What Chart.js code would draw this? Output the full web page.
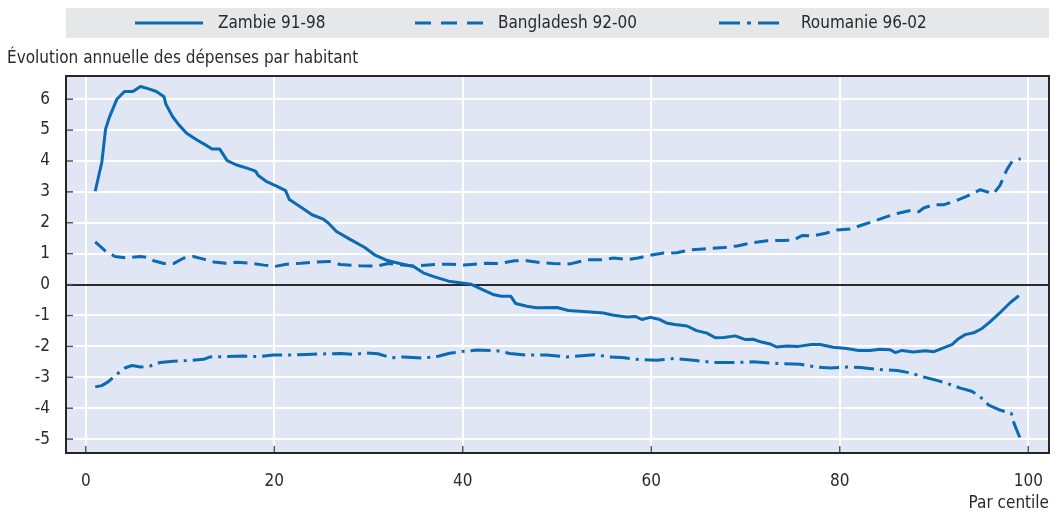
<!DOCTYPE html>
<html><head><meta charset="utf-8">
<script src="https://cdn.jsdelivr.net/npm/chart.js@4/dist/chart.umd.min.js"></script>
<style>html,body{margin:0;padding:0;background:#fff;}#wrap{width:1056px;height:515px;position:relative;}</style>
</head><body><div id="wrap"><canvas id="c" width="1056" height="515"></canvas></div>
<script>
// ---- data ----
const seriesLabels = ['Zambie 91-98', 'Bangladesh 92-00', 'Roumanie 96-02'];
const yAxisTitle = 'Évolution annuelle des dépenses par habitant';
const xAxisTitle = 'Par centile';
const xTickValues = [0, 20, 40, 60, 80, 100];
const yTickValues = [-5, -4, -3, -2, -1, 0, 1, 2, 3, 4, 5, 6];

const zambieX = [1, 1.7, 2.1, 2.5, 3.3, 4.1, 5.0, 5.8, 6.6, 7.5, 8.3, 8.5, 9.2, 9.9, 10.7, 11.8, 12.7, 13.4, 14.2, 15.0, 16.0, 17.1, 18.0, 18.3, 19.2, 20.3, 21.2, 21.6, 22.8, 24.0, 25.2, 25.7, 26.6, 28.0, 29.6, 30.7, 31.9, 33.3, 34.75, 35.8, 37.0, 38.5, 39.9, 40.9, 42.2, 43.2, 44.1, 45.1, 45.6, 46.8, 47.8, 50.0, 51.2, 53.2, 54.9, 56.0, 57.4, 58.3, 59.0, 59.9, 60.8, 61.6, 62.5, 63.8, 64.8, 65.9, 66.8, 67.7, 68.9, 70.0, 70.8, 71.7, 72.6, 73.3, 74.4, 75.6, 77.0, 77.9, 79.3, 80.75, 82.0, 83.2, 84.3, 85.35, 85.9, 86.6, 87.8, 89.1, 90.0, 91.0, 91.9, 92.6, 93.3, 94.2, 95.1, 96.0, 97.0, 98.1, 99.0];
const zambieY = [3.02, 3.96, 5.03, 5.41, 6.0, 6.25, 6.25, 6.41, 6.34, 6.25, 6.08, 5.84, 5.44, 5.16, 4.9, 4.68, 4.52, 4.39, 4.39, 4.01, 3.87, 3.77, 3.67, 3.53, 3.33, 3.18, 3.04, 2.75, 2.51, 2.26, 2.12, 2.0, 1.72, 1.47, 1.2, 0.95, 0.79, 0.68, 0.59, 0.38, 0.25, 0.11, 0.05, 0.01, -0.18, -0.32, -0.38, -0.38, -0.61, -0.70, -0.75, -0.74, -0.84, -0.88, -0.92, -0.99, -1.05, -1.03, -1.13, -1.06, -1.12, -1.24, -1.29, -1.34, -1.49, -1.57, -1.72, -1.71, -1.66, -1.78, -1.77, -1.86, -1.92, -2.02, -1.99, -2.0, -1.94, -1.94, -2.03, -2.07, -2.13, -2.13, -2.09, -2.11, -2.2, -2.13, -2.18, -2.14, -2.17, -2.05, -1.94, -1.75, -1.62, -1.56, -1.42, -1.19, -0.91, -0.58, -0.36];

const bangladeshX = [1, 2.1, 3.1, 4.2, 5.8, 6.7, 7.2, 8.3, 9.3, 10.4, 11.4, 12.3, 13.6, 14.8, 16.0, 17.5, 18.9, 20.1, 21.3, 22.8, 24.2, 25.8, 27.0, 29.1, 30.9, 32.1, 34.75, 37.2, 38.6, 40.1, 40.9, 42.5, 43.9, 45.5, 46.8, 48.2, 49.6, 51.4, 53.2, 54.7, 56.0, 57.4, 58.6, 59.9, 61.3, 62.7, 64.1, 65.5, 67.7, 69.1, 70.7, 72.3, 73.9, 75.1, 76.0, 77.2, 78.5, 79.7, 81.1, 82.3, 83.8, 85.0, 86.2, 87.5, 88.4, 88.9, 90.0, 91.0, 92.4, 93.5, 94.9, 96.3, 97.0, 97.7, 98.3, 99.2];
const bangladeshY = [1.38, 1.08, 0.91, 0.87, 0.91, 0.87, 0.77, 0.68, 0.68, 0.86, 0.91, 0.84, 0.73, 0.69, 0.72, 0.69, 0.63, 0.59, 0.66, 0.69, 0.73, 0.75, 0.65, 0.61, 0.6, 0.68, 0.6, 0.65, 0.66, 0.63, 0.65, 0.69, 0.68, 0.77, 0.77, 0.71, 0.68, 0.67, 0.8, 0.8, 0.86, 0.81, 0.86, 0.95, 1.02, 1.03, 1.12, 1.15, 1.2, 1.25, 1.35, 1.42, 1.43, 1.44, 1.59, 1.58, 1.66, 1.77, 1.8, 1.92, 2.07, 2.2, 2.31, 2.4, 2.36, 2.48, 2.59, 2.58, 2.72, 2.86, 3.07, 2.94, 3.21, 3.7, 4.0, 4.07];

const roumanieX = [1, 1.7, 2.4, 3.3, 4.2, 4.9, 5.8, 6.7, 7.9, 9.3, 10.7, 12.5, 13.2, 14.6, 16.7, 18.3, 19.9, 21.7, 23.5, 25.6, 27.0, 28.4, 29.8, 31.0, 32.4, 33.7, 35.8, 37.4, 38.6, 40.1, 41.5, 43.6, 45.0, 46.8, 48.9, 51.0, 54.0, 55.6, 56.9, 58.5, 60.6, 62.5, 64.5, 66.6, 68.7, 70.8, 73.3, 75.8, 77.6, 79.0, 80.75, 82.2, 83.9, 86.1, 87.5, 88.9, 90.3, 91.4, 92.8, 94.0, 94.9, 95.8, 97.0, 98.2, 98.5, 99.1];
const roumanieY = [-3.31, -3.27, -3.14, -2.9, -2.69, -2.62, -2.67, -2.65, -2.52, -2.48, -2.46, -2.42, -2.34, -2.33, -2.31, -2.33, -2.28, -2.28, -2.26, -2.24, -2.23, -2.26, -2.21, -2.24, -2.37, -2.34, -2.38, -2.32, -2.22, -2.16, -2.12, -2.14, -2.23, -2.28, -2.28, -2.34, -2.27, -2.34, -2.36, -2.42, -2.45, -2.39, -2.45, -2.52, -2.52, -2.5, -2.55, -2.58, -2.67, -2.7, -2.67, -2.68, -2.74, -2.78, -2.86, -2.99, -3.1, -3.2, -3.35, -3.45, -3.63, -3.9, -4.06, -4.17, -4.5, -4.95];

// ---- styling ----
const BLUE = '#0a6ab3';
const FONT = '"Liberation Sans Narrow", "DejaVu Sans Condensed", "Liberation Sans", sans-serif';
const TEXT = '#2a2a2a';
const dashes = [[], [14, 7], [20, 6, 3, 6]];
const legendDashes = [[], [16, 10], [21, 7, 4, 7]];

const toPts = (xs, ys) => xs.map((x, i) => ({ x: x, y: ys[i] }));

const decor = {
  id: 'decor',
  beforeDraw(chart) {
    const { ctx, chartArea: a } = chart;
    ctx.save();
    ctx.fillStyle = '#ffffff';
    ctx.fillRect(0, 0, chart.width, chart.height);
    ctx.fillStyle = '#e0e6f3';
    ctx.fillRect(a.left, a.top, a.right - a.left, a.bottom - a.top);
    // legend box
    ctx.fillStyle = '#e6e7e9';
    ctx.fillRect(a.left, 8, a.right - a.left, 30);
    const items = [[135, 203, 218], [415, 483, 498], [719, 781, 801]];
    ctx.font = '17px ' + FONT;
    ctx.textBaseline = 'middle';
    ctx.textAlign = 'left';
    items.forEach((it, i) => {
      ctx.strokeStyle = BLUE;
      ctx.lineWidth = 3;
      ctx.setLineDash(legendDashes[i]);
      ctx.beginPath();
      ctx.moveTo(it[0], 23);
      ctx.lineTo(it[1], 23);
      ctx.stroke();
      ctx.setLineDash([]);
      ctx.fillStyle = TEXT;
      ctx.fillText(seriesLabels[i], it[2], 23.5);
    });
    // y-axis title above plot
    ctx.textBaseline = 'alphabetic';
    ctx.fillText(yAxisTitle, 7, 63);
    ctx.restore();
  },
  afterDraw(chart) {
    const { ctx, chartArea: a, scales } = chart;
    ctx.save();
    // inward tick marks
    ctx.strokeStyle = '#555';
    ctx.lineWidth = 1.5;
    yTickValues.forEach(v => {
      const y = scales.y.getPixelForValue(v);
      ctx.beginPath(); ctx.moveTo(a.left, y); ctx.lineTo(a.left + 7, y); ctx.stroke();
    });
    xTickValues.forEach(v => {
      const x = scales.x.getPixelForValue(v);
      ctx.beginPath(); ctx.moveTo(x, a.bottom); ctx.lineTo(x, a.bottom - 7); ctx.stroke();
    });
    // plot frame
    ctx.strokeStyle = '#262626';
    ctx.lineWidth = 2;
    ctx.strokeRect(a.left, a.top, a.right - a.left, a.bottom - a.top);
    ctx.restore();
  }
};

new Chart(document.getElementById('c'), {
  type: 'line',
  data: {
    datasets: [
      { label: seriesLabels[0], data: toPts(zambieX, zambieY) },
      { label: seriesLabels[1], data: toPts(bangladeshX, bangladeshY) },
      { label: seriesLabels[2], data: toPts(roumanieX, roumanieY) }
    ].map((d, i) => Object.assign(d, {
      borderColor: BLUE, borderWidth: 3, borderDash: dashes[i], borderCapStyle: 'butt',
      borderJoinStyle: 'round', pointRadius: 0, tension: 0, fill: false
    }))
  },
  options: {
    responsive: false,
    animation: false,
    devicePixelRatio: 1,
    layout: { padding: { top: 76, right: 7, left: 0, bottom: 0 } },
    plugins: { legend: { display: false }, tooltip: { enabled: false }, title: { display: false } },
    scales: {
      x: {
        type: 'linear', min: -2.1, max: 102.2,
        afterBuildTicks: s => { s.ticks = xTickValues.map(v => ({ value: v })); },
        afterFit: s => { s.height = 62; s.paddingLeft = 0; s.paddingRight = 0; },
        grid: { color: '#ffffff', lineWidth: 2, drawTicks: false },
        border: { display: false },
        ticks: { padding: 18, color: TEXT, font: { family: FONT, size: 17 }, maxRotation: 0, autoSkip: false },
        title: { display: true, text: xAxisTitle, align: 'end', color: TEXT, font: { family: FONT, size: 17 }, padding: { top: 0, bottom: 1 } }
      },
      y: {
        type: 'linear', min: -5.45, max: 6.75,
        afterBuildTicks: s => { s.ticks = yTickValues.map(v => ({ value: v })); },
        afterFit: s => { s.width = 66; s.paddingTop = 0; s.paddingBottom = 0; },
        grid: {
          color: c => (c.tick && c.tick.value === 0) ? '#2b2b2b' : '#ffffff',
          lineWidth: 2, drawTicks: false
        },
        border: { display: false },
        ticks: { padding: 16, color: TEXT, font: { family: FONT, size: 17 }, autoSkip: false }
      }
    }
  },
  plugins: [decor]
});
</script>
</body></html>
